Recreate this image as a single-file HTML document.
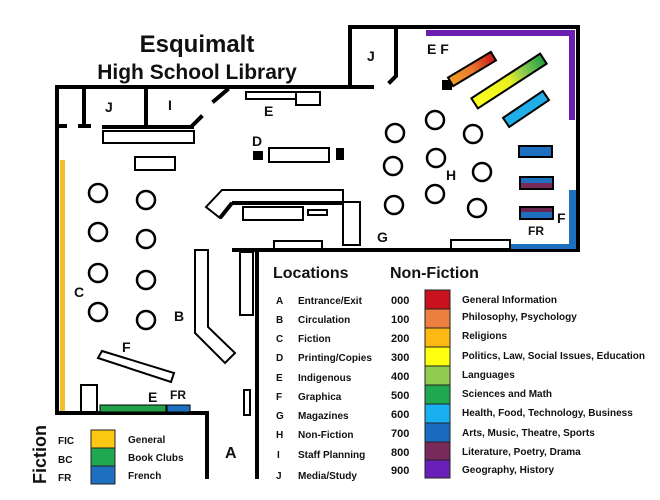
<!DOCTYPE html>
<html><head><meta charset="utf-8"><style>
body{margin:0;background:#fff}
svg{display:block}
text{font-family:"Liberation Sans",sans-serif;font-weight:bold;fill:#111}
</style></head><body>
<svg width="660" height="500" viewBox="0 0 660 500" xmlns="http://www.w3.org/2000/svg">
<text x="197" y="52" font-size="24" text-anchor="middle">Esquimalt</text>
<text x="197" y="79" font-size="21" text-anchor="middle">High School Library</text>
<g stroke="#000" stroke-width="4" fill="none" stroke-linecap="square">
<polyline points="352,87 57,87 57,413 207,413 207,477"/>
<line x1="84" y1="87" x2="84" y2="126"/>
<line x1="80" y1="126" x2="89" y2="126"/>
<line x1="57" y1="126" x2="65" y2="126"/>
<line x1="146" y1="87" x2="146" y2="126"/>
<line x1="104" y1="127" x2="192" y2="127"/>
<line x1="192" y1="126" x2="201" y2="117"/>
<line x1="214" y1="101" x2="227" y2="90"/>
<polyline points="340,87 350,87 350,27 578,27 578,250 234,250"/>
<line x1="257" y1="250" x2="257" y2="477"/>
<polyline points="396,27 396,76 390,82"/>
<line x1="350" y1="87" x2="372" y2="87"/>
</g>
<rect x="60" y="160" width="5" height="251" fill="#f0c030"/>
<rect x="426" y="30" width="148" height="6" fill="#6a1fb0"/>
<rect x="569" y="30" width="6" height="90" fill="#6a1fb0"/>
<rect x="569" y="190" width="7" height="58" fill="#1d6fc0"/>
<rect x="510" y="244" width="66" height="5" fill="#1d6fc0"/>
<g stroke="#000" stroke-width="2" fill="#fff">
<rect x="103" y="131" width="91" height="12"/>
<rect x="135" y="157" width="40" height="13"/>
<rect x="246" y="92" width="50" height="7"/>
<rect x="296" y="92" width="24" height="13"/>
<rect x="269" y="148" width="60" height="14"/>
<polygon points="222,190 343,190 343,203 232,203 220,218 206,207" />
<rect x="243" y="207" width="60" height="13"/>
<rect x="308" y="210" width="19" height="5"/>
<rect x="343" y="202" width="17" height="43"/>
<rect x="274" y="241" width="48" height="8"/>
<rect x="240" y="252" width="13" height="63"/>
<polygon points="195,250 208,250 208,327 235,353 225,363 195,333"/>
<rect x="244" y="390" width="6" height="25"/>
<polygon points="98,358 102,351 174,373 171,382"/>
<rect x="81" y="385" width="16" height="27"/>
<rect x="451" y="240" width="59" height="9"/>
</g>
<line x1="232" y1="203" x2="343" y2="203" stroke="#000" stroke-width="4"/>
<line x1="232" y1="203" x2="220" y2="218" stroke="#000" stroke-width="4"/>
<rect x="253" y="151" width="10" height="9" fill="#000"/>
<rect x="336" y="148" width="8" height="12" fill="#000"/>
<rect x="442" y="80" width="10" height="10" fill="#000"/>
<rect x="100" y="405" width="66" height="7" fill="#22a04a" stroke="#000" stroke-width="1"/>
<rect x="167" y="405" width="23" height="7" fill="#1d6fc0" stroke="#000" stroke-width="1"/>
<g stroke="#000" stroke-width="2.5" fill="none">
<circle cx="98" cy="193" r="9"/><circle cx="146" cy="200" r="9"/>
<circle cx="98" cy="232" r="9"/><circle cx="146" cy="239" r="9"/>
<circle cx="98" cy="273" r="9"/><circle cx="146" cy="280" r="9"/>
<circle cx="98" cy="312" r="9"/><circle cx="146" cy="320" r="9"/>
<circle cx="395" cy="133" r="9"/><circle cx="435" cy="120" r="9"/><circle cx="473" cy="134" r="9"/>
<circle cx="393" cy="166" r="9"/><circle cx="436" cy="158" r="9"/><circle cx="482" cy="172" r="9"/>
<circle cx="394" cy="205" r="9"/><circle cx="435" cy="194" r="9"/><circle cx="477" cy="208" r="9"/>
</g>
<defs>
<linearGradient id="g1" x1="0" x2="1"><stop offset="0" stop-color="#f0a020"/><stop offset="0.5" stop-color="#e87830"/><stop offset="1" stop-color="#c81818"/></linearGradient>
<linearGradient id="g2" x1="0" x2="1"><stop offset="0" stop-color="#ffff20"/><stop offset="0.5" stop-color="#e8f020"/><stop offset="0.7" stop-color="#90cc50"/><stop offset="1" stop-color="#20a040"/></linearGradient>
</defs>
<rect x="-25" y="-5" width="50" height="10" fill="url(#g1)" stroke="#000" stroke-width="2" transform="translate(472,69) rotate(-31)"/>
<rect x="-41" y="-6" width="82" height="12" fill="url(#g2)" stroke="#000" stroke-width="2" transform="translate(509,81) rotate(-33)"/>
<rect x="-24" y="-5.5" width="48" height="11" fill="#20aee8" stroke="#000" stroke-width="2" transform="translate(526,109) rotate(-34)"/>
<rect x="519" y="146" width="33" height="11" fill="#1d6fc0" stroke="#000" stroke-width="2"/>
<rect x="520" y="177" width="33" height="12" fill="#1d6fc0" stroke="#000" stroke-width="2"/>
<rect x="521" y="183" width="31" height="5" fill="#7a2a5a"/>
<rect x="520" y="207" width="33" height="12" fill="#1d6fc0" stroke="#000" stroke-width="2"/>
<rect x="521" y="208" width="31" height="4" fill="#6a2450"/>
<g font-size="14">
<text x="105" y="112">J</text><text x="168" y="110">I</text>
<text x="264" y="116">E</text><text x="252" y="146">D</text>
<text x="367" y="61">J</text><text x="427" y="54">E F</text>
<text x="446" y="180">H</text><text x="377" y="242">G</text>
<text x="557" y="223">F</text>
<text x="74" y="297">C</text><text x="174" y="321">B</text>
<text x="122" y="352">F</text><text x="148" y="402">E</text>
<text x="225" y="458" font-size="16">A</text>
</g>
<text x="170" y="399" font-size="12">FR</text>
<text x="528" y="235" font-size="12">FR</text>
<text x="273" y="278" font-size="16">Locations</text>
<text x="390" y="278" font-size="16">Non-Fiction</text>
<g font-size="10">
<text x="276" y="304">A</text><text x="298" y="304">Entrance/Exit</text>
<text x="276" y="323">B</text><text x="298" y="323">Circulation</text>
<text x="276" y="342">C</text><text x="298" y="342">Fiction</text>
<text x="276" y="361">D</text><text x="298" y="361">Printing/Copies</text>
<text x="276" y="381">E</text><text x="298" y="381">Indigenous</text>
<text x="276" y="400">F</text><text x="298" y="400">Graphica</text>
<text x="276" y="419">G</text><text x="298" y="419">Magazines</text>
<text x="276" y="438">H</text><text x="298" y="438">Non-Fiction</text>
<text x="277" y="458">I</text><text x="298" y="458">Staff Planning</text>
<text x="276" y="479">J</text><text x="298" y="479">Media/Study</text>
</g>
<g font-size="11">
<text x="391" y="304">000</text><text x="391" y="323">100</text><text x="391" y="342">200</text><text x="391" y="361">300</text><text x="391" y="380">400</text><text x="391" y="399">500</text><text x="391" y="418">600</text><text x="391" y="437">700</text><text x="391" y="456">800</text><text x="391" y="474">900</text>
</g>
<g stroke="#222" stroke-width="1">
<rect x="425" y="290" width="25" height="19" fill="#c8121e"/>
<rect x="425" y="309" width="25" height="19" fill="#ec8040"/>
<rect x="425" y="328" width="25" height="19" fill="#fdb814"/>
<rect x="425" y="347" width="25" height="19" fill="#ffff10"/>
<rect x="425" y="366" width="25" height="19" fill="#90cc50"/>
<rect x="425" y="385" width="25" height="19" fill="#20a850"/>
<rect x="425" y="404" width="25" height="19" fill="#18b0f0"/>
<rect x="425" y="423" width="25" height="19" fill="#1a6cc0"/>
<rect x="425" y="442" width="25" height="18" fill="#782a5a"/>
<rect x="425" y="460" width="25" height="18" fill="#6a20b8"/>
</g>
<g font-size="10">
<text x="462" y="303">General Information</text>
<text x="462" y="320">Philosophy, Psychology</text>
<text x="462" y="339">Religions</text>
<text x="462" y="359">Politics, Law, Social Issues, Education</text>
<text x="462" y="378">Languages</text>
<text x="462" y="397">Sciences and Math</text>
<text x="462" y="416">Health, Food, Technology, Business</text>
<text x="462" y="436">Arts, Music, Theatre, Sports</text>
<text x="462" y="455">Literature, Poetry, Drama</text>
<text x="462" y="473">Geography, History</text>
</g>
<text transform="translate(46,484) rotate(-90)" font-size="18">Fiction</text>
<g font-size="10">
<text x="58" y="444">FIC</text><text x="58" y="463">BC</text><text x="58" y="481">FR</text>
<text x="128" y="443">General</text><text x="128" y="461">Book Clubs</text><text x="128" y="479">French</text>
</g>
<g stroke="#222" stroke-width="1">
<rect x="91" y="430" width="24" height="18" fill="#fdc814"/>
<rect x="91" y="448" width="24" height="18" fill="#20a850"/>
<rect x="91" y="466" width="24" height="18" fill="#1d6fc0"/>
</g>
</svg>
</body></html>
